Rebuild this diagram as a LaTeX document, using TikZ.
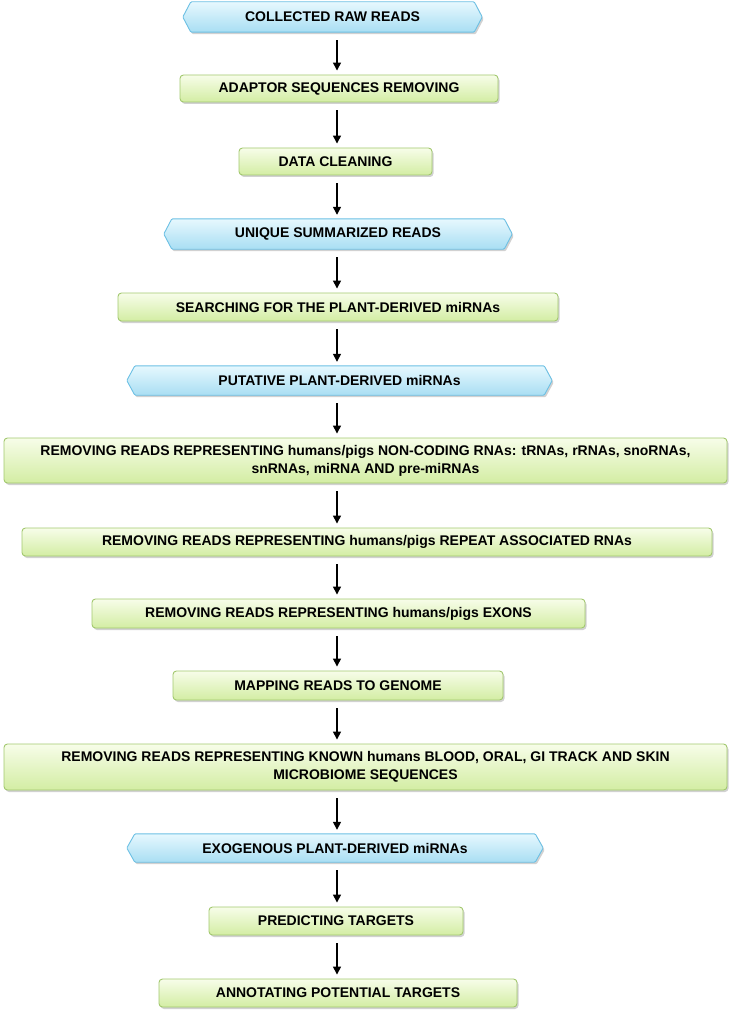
\documentclass[tikz,border=0pt]{standalone}
\usepackage{fontspec}
\setmainfont{Liberation Sans}
\usetikzlibrary{arrows.meta,calc,shadows,backgrounds}
\definecolor{gtop}{HTML}{F7FDE9}
\definecolor{gbot}{HTML}{D3EDA3}
\definecolor{gline}{HTML}{A2C86E}
\definecolor{btop}{HTML}{E6F8FE}
\definecolor{bbot}{HTML}{A9DEF3}
\definecolor{bline}{HTML}{6CC0E4}
\tikzset{
  lbl/.style={font=\fontsize{14}{18}\bfseries\selectfont, align=center, inner sep=0pt},
  gbox/.style={lbl, draw=gline, line width=0.9pt, rounded corners=3.5pt,
    top color=gtop, bottom color=gbot,
    drop shadow={shadow xshift=1.5pt, shadow yshift=-2pt, fill=black, opacity=.18}},
  hbox/.style={lbl},
  hexfill/.style={draw=bline, line width=0.9pt, top color=btop, bottom color=bbot, rounded corners=1pt,
    drop shadow={shadow xshift=1.5pt, shadow yshift=-2pt, fill=black, opacity=.18}},
  arr/.style={-{Triangle[length=8pt,width=8pt]}, line width=1.4pt, black, shorten <=8pt, shorten >=4pt}
}
\newcommand\hexshape[1]{%
  \path[hexfill] (#1.west) -- ($(#1.north west)+(8pt,0)$) -- ($(#1.north east)+(-8pt,0)$) -- (#1.east)
    -- ($(#1.south east)+(-8pt,0)$) -- ($(#1.south west)+(8pt,0)$) -- cycle;}
\begin{document}
\begin{tikzpicture}[x=1pt,y=1pt]
\useasboundingbox (0,0) rectangle (733,-1011);
\coordinate (ax) at (337,0);
\node[hbox, minimum width=299pt, minimum height=30pt] (n1) at (332.5,-17) {COLLECTED RAW READS};
\node[gbox, minimum width=318pt, minimum height=27pt] (n2) at (339,-88.5) {ADAPTOR SEQUENCES REMOVING};
\node[gbox, minimum width=193pt, minimum height=27pt] (n3) at (335.5,-161.5) {DATA CLEANING};
\node[hbox, minimum width=348pt, minimum height=30pt] (n4) at (338,-234) {UNIQUE SUMMARIZED READS};
\node[gbox, minimum width=440pt, minimum height=28pt] (n5) at (338,-307) {SEARCHING FOR THE PLANT-DERIVED miRNAs};
\node[hbox, minimum width=425pt, minimum height=29pt] (n6) at (339.5,-380.5) {PUTATIVE PLANT-DERIVED miRNAs};
\node[gbox, minimum width=723pt, minimum height=45pt] (n7) at (365.5,-460.5) {REMOVING READS REPRESENTING humans/pigs NON-CODING RNAs: tRNAs, rRNAs, snoRNAs,\\ snRNAs, miRNA AND pre-miRNAs};
\node[gbox, minimum width=690pt, minimum height=28pt] (n8) at (367,-542) {REMOVING READS REPRESENTING humans/pigs REPEAT ASSOCIATED RNAs};
\node[gbox, minimum width=493pt, minimum height=29pt] (n9) at (338.5,-613.5) {REMOVING READS REPRESENTING humans/pigs EXONS};
\node[gbox, minimum width=330pt, minimum height=29pt] (n10) at (338,-685.5) {MAPPING READS TO GENOME};
\node[gbox, minimum width=723pt, minimum height=46pt] (n11) at (365.5,-767) {REMOVING READS REPRESENTING KNOWN humans BLOOD, ORAL, GI TRACK AND SKIN\\ MICROBIOME SEQUENCES};
\node[hbox, minimum width=416pt, minimum height=28pt] (n12) at (335,-848) {EXOGENOUS PLANT-DERIVED miRNAs};
\node[gbox, minimum width=254pt, minimum height=28pt] (n13) at (336,-921) {PREDICTING TARGETS};
\node[gbox, minimum width=358pt, minimum height=28pt] (n14) at (338,-993) {ANNOTATING POTENTIAL TARGETS};
\begin{scope}[on background layer]
\hexshape{n1}
\hexshape{n4}
\hexshape{n6}
\hexshape{n12}
\end{scope}
\foreach \a/\b in {n1/n2,n2/n3,n3/n4,n4/n5,n5/n6,n6/n7,n7/n8,n8/n9,n9/n10,n10/n11,n11/n12,n12/n13,n13/n14}
  \draw[arr] (\a.south -| ax) -- (\b.north -| ax);
\end{tikzpicture}
\end{document}
